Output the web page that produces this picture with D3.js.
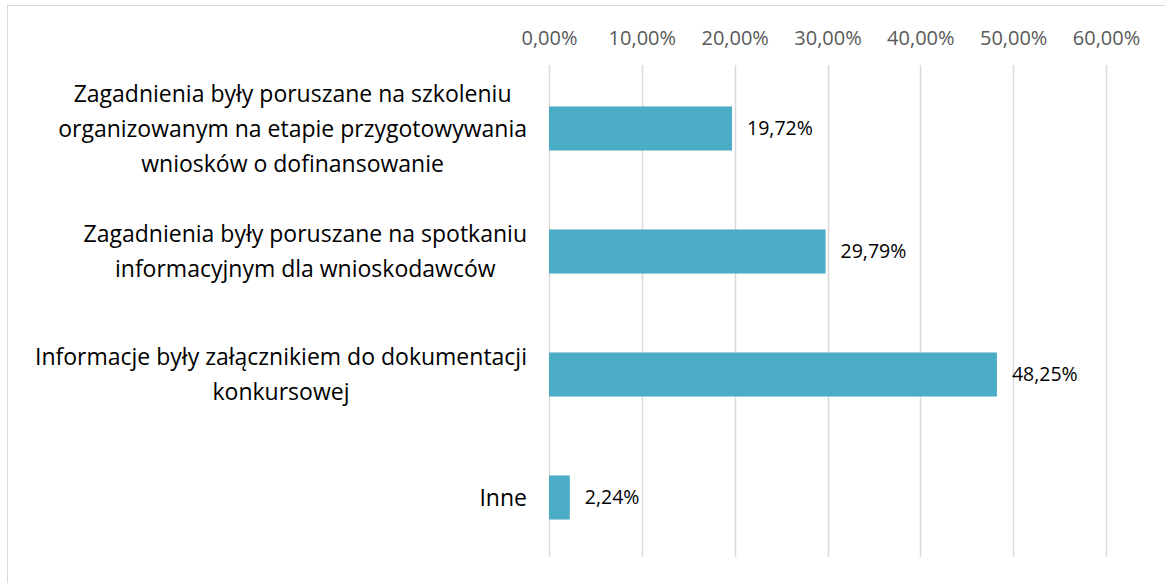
<!DOCTYPE html>
<html lang="pl">
<head>
<meta charset="UTF-8">
<title>Wykres</title>
<script src="https://d3js.org/d3.v7.min.js"></script>
<style>
  body { margin: 0; background: #fff; }
  svg { display: block; font-family: "Open Sans", sans-serif; }
</style>
</head>
<body>
<div id="chart"></div>
<script>
// categories and values
const categories = [
  "Zagadnienia były poruszane na szkoleniu|organizowanym na etapie przygotowywania|wniosków o dofinansowanie",
  "Zagadnienia były poruszane na spotkaniu|informacyjnym dla wnioskodawców",
  "Informacje były załącznikiem do dokumentacji|konkursowej",
  "Inne"
];
const values = [19.72, 29.79, 48.25, 2.24];
const ticks = [0, 10, 20, 30, 40, 50, 60];

const W = 1165, H = 583;
const margin = { top: 65, right: 59, bottom: 26, left: 549 };

const svg = d3.select("#chart").append("svg")
  .attr("width", W).attr("height", H);

// chart frame
svg.append("rect")
  .attr("x", 7.5).attr("y", 5.5)
  .attr("width", W).attr("height", H)
  .attr("fill", "none").attr("stroke", "#d9d9d9");

const x = d3.scaleLinear().domain([0, 60]).range([margin.left, W - margin.right]);
const y = d3.scaleBand().domain(d3.range(categories.length))
  .range([margin.top + 2, H - margin.bottom + 2]).paddingInner(0.642).paddingOuter(0.321);

const fmt = v => v.toFixed(2).replace(".", ",") + "%";

// gridlines
svg.append("g").selectAll("line").data(ticks).join("line")
  .attr("x1", d => Math.round(x(d)) + 0.5).attr("x2", d => Math.round(x(d)) + 0.5)
  .attr("y1", margin.top).attr("y2", H - margin.bottom)
  .attr("stroke", "#d9d9d9").attr("stroke-width", 1.5);

// top axis labels
const axis = d3.axisTop(x).tickValues(ticks).tickSize(0).tickFormat(fmt);
const ga = svg.append("g").attr("transform", `translate(0,${margin.top - 17})`).call(axis);
ga.select(".domain").remove();
ga.selectAll("text").attr("fill", "#595959").style("font-size", "20px")
  .style("font-family", "\"Open Sans\", sans-serif");

// bars
svg.append("g").selectAll("rect").data(values).join("rect")
  .attr("x", x(0)).attr("y", (d, i) => y(i))
  .attr("width", d => x(d) - x(0)).attr("height", y.bandwidth())
  .attr("fill", "#4bacc6");

// value labels
svg.append("g").selectAll("text").data(values).join("text")
  .attr("x", d => x(d) + 15).attr("y", (d, i) => y(i) + y.bandwidth() / 2)
  .attr("dy", "0.35em").attr("fill", "#000").style("font-size", "19.5px")
  .text(fmt);

// category labels: lines centred inside a block whose right edge sits at 527
const lineH = 35;
const labelRight = 527;
categories.forEach((c, i) => {
  const lines = c.split("|");
  const cy = y(i) + y.bandwidth() / 2;
  const g = svg.append("g");
  const t = g.selectAll("text").data(lines).join("text")
    .attr("y", (d, j) => cy + (j - (lines.length - 1) / 2) * lineH)
    .attr("dy", "0.35em").attr("fill", "#000").style("font-size", "23px")
    .attr("text-anchor", "middle").text(d => d);
  const maxW = d3.max(t.nodes(), n => n.getComputedTextLength());
  t.attr("x", labelRight - maxW / 2);
});
</script>
</body>
</html>
